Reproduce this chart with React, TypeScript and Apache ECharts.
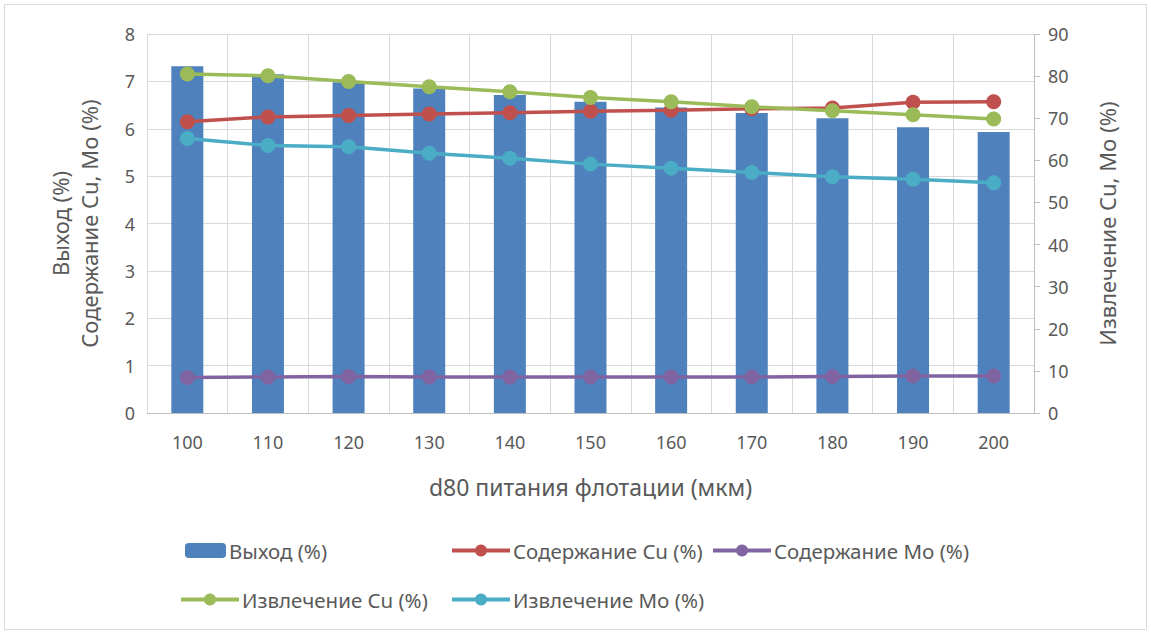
import React, { useEffect, useRef } from "react";
import * as echarts from "echarts";

const categories = ["100", "110", "120", "130", "140", "150", "160", "170", "180", "190", "200"];
const yieldPct = [7.32, 7.15, 6.98, 6.85, 6.71, 6.57, 6.45, 6.33, 6.22, 6.03, 5.93];
const cuGrade = [6.15, 6.25, 6.28, 6.31, 6.34, 6.37, 6.39, 6.42, 6.44, 6.56, 6.57];
const moGrade = [0.75, 0.76, 0.77, 0.76, 0.76, 0.76, 0.76, 0.76, 0.77, 0.78, 0.78];
const cuRecovery = [80.5, 80.1, 78.7, 77.5, 76.3, 74.9, 73.9, 72.7, 71.8, 70.8, 69.8];
const moRecovery = [65.2, 63.5, 63.2, 61.7, 60.5, 59.1, 58.1, 57.1, 56.1, 55.5, 54.7];

const seriesNames = ["Выход (%)", "Содержание Cu (%)", "Содержание Mo (%)", "Извлечение Cu (%)", "Извлечение Mo (%)"];
const colors = ["#4f81bd", "#c0504d", "#8064a2", "#9bbb59", "#4bacc6"];

const FONT = "Noto Sans";
const TXT = "#595959";

export default function App() {
  const ref = useRef<HTMLDivElement>(null);
  useEffect(() => {
    if (!ref.current) return;
    const chart = echarts.init(ref.current, undefined, { renderer: "svg" });
    const lineSeries = (i: number, data: number[], yAxisIndex: number) => ({
      name: seriesNames[i],
      type: "line",
      yAxisIndex,
      data,
      symbol: "circle",
      symbolSize: 15,
      itemStyle: { color: colors[i] },
      lineStyle: { color: colors[i], width: 3.5 },
      z: 3,
    });
    const legendPos = [
      { left: 185, top: 540 },
      { left: 450, top: 540 },
      { left: 711, top: 540 },
      { left: 179, top: 589 },
      { left: 450, top: 589 },
    ];
    const legends = seriesNames.map((n, i) => ({
      data: [n],
      left: legendPos[i].left,
      top: legendPos[i].top,
      itemWidth: i === 0 ? 41 : 58,
      itemHeight: 15,
      itemGap: 0,
      padding: 0,
      lineStyle: { width: 4 },
      textStyle: { color: TXT, fontFamily: FONT, fontSize: 20.5, padding: [0, 0, 0, -2] },
    }));
    chart.setOption({
      animation: false,
      color: colors,
      textStyle: { fontFamily: FONT },
      graphic: [
        {
          type: "rect",
          shape: { x: 4.5, y: 4.5, width: 1142, height: 625 },
          style: { fill: "none", stroke: "#d9d9d9", lineWidth: 1 },
          silent: true,
        },
      ],
      legend: legends,
      grid: { left: 147, right: 117, top: 34, bottom: 220 },
      xAxis: {
        type: "category",
        data: categories,
        boundaryGap: true,
        name: "d80 питания флотации (мкм)",
        nameLocation: "middle",
        nameGap: 62,
        nameTextStyle: { color: TXT, fontFamily: FONT, fontSize: 23 },
        axisLine: { show: true, lineStyle: { color: "#bfbfbf", width: 1 } },
        axisTick: { show: false },
        axisLabel: { color: TXT, fontFamily: FONT, fontSize: 18, margin: 20 },
        splitLine: { show: true, lineStyle: { color: "#d9d9d9", width: 1 } },
      },
      yAxis: [
        {
          type: "value",
          min: 0,
          max: 8,
          interval: 1,
          name: "Выход (%)\nСодержание Cu, Mo (%)",
          nameLocation: "middle",
          nameGap: 44,
          nameRotate: 90,
          nameTextStyle: { color: TXT, fontFamily: FONT, fontSize: 22, lineHeight: 29 },
          axisLine: { show: false },
          axisTick: { show: false },
          axisLabel: { color: TXT, fontFamily: FONT, fontSize: 18, margin: 12 },
          splitLine: { show: true, lineStyle: { color: "#d9d9d9", width: 1 } },
        },
        {
          type: "value",
          min: 0,
          max: 90,
          interval: 10,
          position: "right",
          name: "Извлечение Cu, Mo (%)",
          nameLocation: "middle",
          nameGap: 62,
          nameRotate: 90,
          nameTextStyle: { color: TXT, fontFamily: FONT, fontSize: 22 },
          axisLine: { show: true, lineStyle: { color: "#bfbfbf", width: 1 } },
          axisTick: { show: true, length: 6, lineStyle: { color: "#bfbfbf" } },
          axisLabel: { color: TXT, fontFamily: FONT, fontSize: 18, margin: 14 },
          splitLine: { show: false },
        },
      ],
      series: [
        {
          name: seriesNames[0],
          type: "bar",
          yAxisIndex: 0,
          data: yieldPct,
          barWidth: 32,
          itemStyle: { color: colors[0] },
          z: 2,
        },
        lineSeries(1, cuGrade, 0),
        lineSeries(2, moGrade, 0),
        lineSeries(3, cuRecovery, 1),
        lineSeries(4, moRecovery, 1),
      ],
    });
    return () => chart.dispose();
  }, []);
  return (
    <div
      ref={ref}
      style={{ position: "fixed", left: 0, top: 0, width: 1151, height: 633, background: "#fff" }}
    />
  );
}
